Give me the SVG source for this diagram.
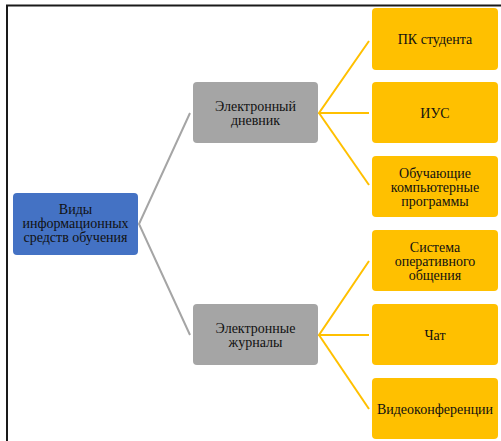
<svg xmlns="http://www.w3.org/2000/svg" width="501" height="441" viewBox="0 0 501 441">
<style>
.t{font-family:'Liberation Serif','Times New Roman','DejaVu Serif',serif;font-size:14px;fill:#111;text-anchor:middle}
.blue{fill:#4472C4}
.gray{fill:#A5A5A5}
.yel{fill:#FFC000}
.cg{stroke:#A5A5A5;stroke-width:2;fill:none}
.cy{stroke:#FFC000;stroke-width:2;fill:none}
</style>
<rect x="0" y="0" width="501" height="441" fill="#fff"/>
<path d="M7 441 V5.5 H501" stroke="#1a1a1a" stroke-width="2" fill="none"/>
<g id="connectors">
<polyline class="cg" points="190,113 139,224 190,335"/>
<polyline class="cy" points="369,41 319,113 369,113"/>
<polyline class="cy" points="319,113 369,185"/>
<polyline class="cy" points="369,261 319,335 369,335"/>
<polyline class="cy" points="319,335 369,409"/>
</g>
<g id="root"><rect class="blue" x="13" y="193" width="125" height="62" rx="4"/>
<text class="t" x="75.5" y="214">Виды</text><text class="t" x="75.5" y="228">информационных</text><text class="t" x="75.5" y="242">средств обучения</text></g>
<g id="diary"><rect class="gray" x="193" y="82" width="125" height="61" rx="4"/>
<text class="t" x="255.5" y="111">Электронный</text><text class="t" x="255.5" y="125">дневник</text></g>
<g id="journals"><rect class="gray" x="193" y="304" width="125" height="61" rx="4"/>
<text class="t" x="255.5" y="333">Электронные</text><text class="t" x="255.5" y="347">журналы</text></g>
<g id="pc"><rect class="yel" x="372" y="8" width="126" height="62" rx="4"/>
<text class="t" x="435" y="44">ПК студента</text></g>
<g id="ius"><rect class="yel" x="372" y="82" width="126" height="61" rx="4"/>
<text class="t" x="435" y="118">ИУС</text></g>
<g id="programs"><rect class="yel" x="372" y="156" width="126" height="61" rx="4"/>
<text class="t" x="435" y="178">Обучающие</text><text class="t" x="435" y="192">компьютерные</text><text class="t" x="435" y="206">программы</text></g>
<g id="system"><rect class="yel" x="372" y="230" width="126" height="61" rx="4"/>
<text class="t" x="435" y="252">Система</text><text class="t" x="435" y="266">оперативного</text><text class="t" x="435" y="280">общения</text></g>
<g id="chat"><rect class="yel" x="372" y="304" width="126" height="61" rx="4"/>
<text class="t" x="435" y="340">Чат</text></g>
<g id="video"><rect class="yel" x="372" y="378" width="126" height="61" rx="4"/>
<text class="t" x="435" y="414">Видеоконференции</text></g>
</svg>
